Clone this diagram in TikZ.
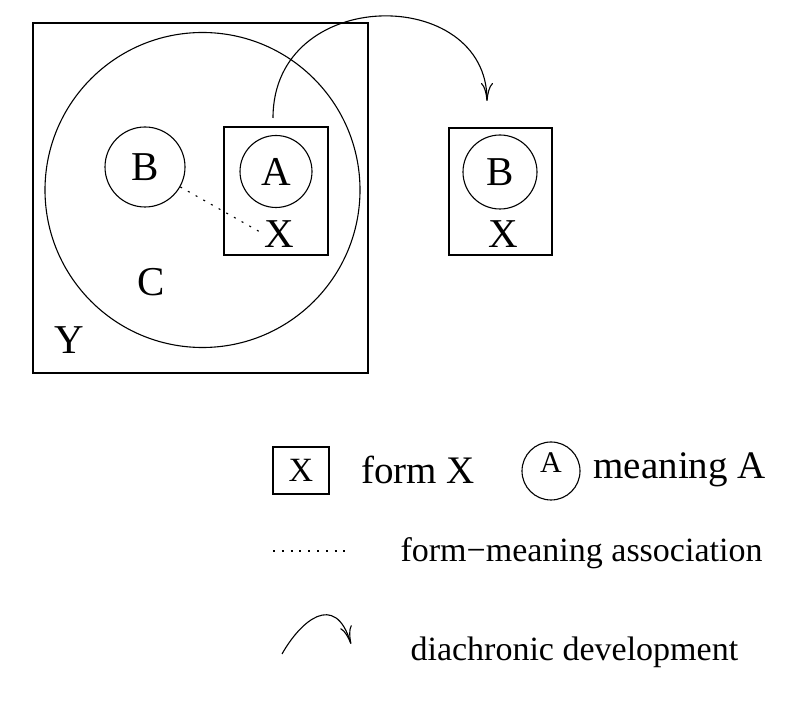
\documentclass[tikz,border=0pt]{standalone}
\usepackage{fontspec}
\setmainfont{Liberation Serif}
\usepackage{tikz}
\usetikzlibrary{arrows.meta}

\begin{document}
\begin{tikzpicture}[x=0.5pt,y=-0.5pt, line width=0.55pt,
    every node/.style={font=\fontsize{20.5}{23}\selectfont, inner sep=0pt}]
  \tikzstyle{formbox}=[draw, rectangle]
  \tikzstyle{meaningcirc}=[draw, circle]
  \tikzstyle{keytext}=[anchor=west, font=\fontsize{17}{20}\selectfont]
  \tikzstyle{assoc}=[dash pattern=on 1pt off 3.4pt]
  \tikzstyle{devel}=[-{To[length=9pt,width=6pt]}]
  \useasboundingbox (0,0) rectangle (794,711);
  % left part
  \node[formbox, minimum width=167.5pt, minimum height=175pt] (ybox) at (200.5,198) {};
  \node[meaningcirc, minimum size=157.5pt] (cc) at (202.5,190) {};
  \node (ylab) at (69,340) {Y};
  \node (clab) at (151,282) {C};
  \node[meaningcirc, minimum size=40pt] (bl) at (145,167) {B};
  \node[formbox, minimum width=52pt, minimum height=64pt] (boxl) at (276,191) {};
  \node[meaningcirc, minimum size=36pt] (al) at (276,171.5) {A};
  \node (xl) at (279,234) {X};
  \draw[assoc] (bl) -- (xl.west);
  % right part
  \node[formbox, minimum width=51.5pt, minimum height=63.5pt] (boxr) at (500.5,191.5) {};
  \node[meaningcirc, minimum size=37pt] (br) at (500,172) {B};
  \node (xr) at (503,234) {X};
  \coordinate (dstart) at (273,118);
  \coordinate (dend) at (487,101);
  \draw[devel] (dstart) .. controls (273,-15) and (487,-15) .. (dend);
  % legend
  \node[formbox, minimum width=28pt, minimum height=23.5pt,
    font=\fontsize{17}{20}\selectfont] (kbox) at (301,470.5) {X};
  \node[font=\fontsize{19.5}{22}\selectfont] (kboxtxt) at (418,470) {form X};
  \node[meaningcirc, minimum size=29pt] (kcirc) at (551,471) {};
  \node[font=\fontsize{15}{18}\selectfont] (kcirclab) at (551,463) {A};
  \node[anchor=west, font=\fontsize{19.5}{22}\selectfont] (kcirctxt) at (593,470) {meaning A};
  \coordinate (kdota) at (273,551);
  \coordinate (kdotb) at (352,551);
  \draw[assoc] (kdota) -- (kdotb);
  \node[keytext] (kdottxt) at (400,553) {form−meaning association};
  \coordinate (karra) at (282,654);
  \coordinate (karrb) at (351,644);
  \draw[devel] (karra) .. controls (300,622) and (335,590) .. (karrb);
  \node[keytext] (karrtxt) at (410,652) {diachronic development};
\end{tikzpicture}
\end{document}
